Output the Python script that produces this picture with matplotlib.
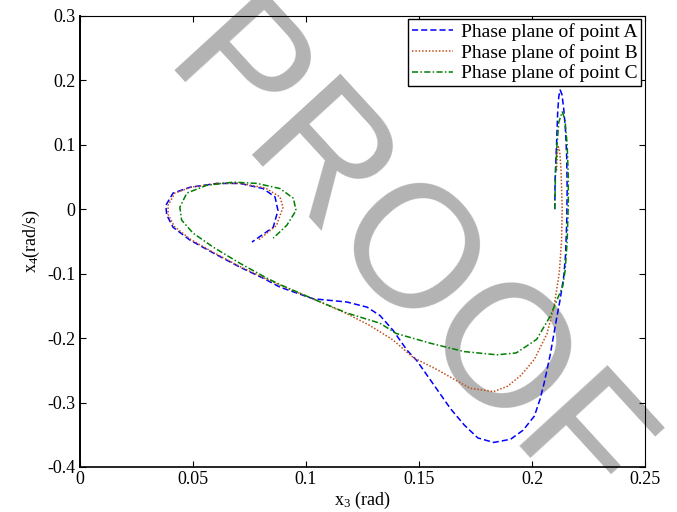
import matplotlib
matplotlib.use('Agg')
import matplotlib.pyplot as plt

plt.rcParams['font.family'] = ['Liberation Serif', 'DejaVu Serif']
plt.rcParams['mathtext.fontset'] = 'custom'
plt.rcParams['mathtext.rm'] = 'Liberation Serif'
plt.rcParams['mathtext.it'] = 'Liberation Serif:italic'

# Phase plane of point A (x3, x4)
A_X3 = [0.2100, 0.2102, 0.2108, 0.2113, 0.2118, 0.2124, 0.2132, 0.2140, 0.2148, 0.2153,
        0.2155, 0.2153, 0.2148, 0.2140, 0.2124, 0.2110, 0.2080, 0.2053, 0.2035, 0.2010,
        0.1960, 0.1905, 0.1830, 0.1760, 0.1700, 0.1640, 0.1580, 0.1490, 0.1447, 0.1385,
        0.1327, 0.1270, 0.1180, 0.1031, 0.0885, 0.0810, 0.0708, 0.0590, 0.0487, 0.0412,
        0.0384, 0.0380, 0.0412, 0.0487, 0.0606, 0.0708, 0.0810, 0.0863, 0.0876, 0.0855,
        0.0761]
A_X4 = [0.000, 0.050, 0.100, 0.150, 0.175, 0.185, 0.178, 0.155, 0.120, 0.080,
        0.030, -0.020, -0.070, -0.104, -0.140, -0.166, -0.226, -0.270, -0.295, -0.321,
        -0.343, -0.357, -0.362, -0.355, -0.335, -0.310, -0.280, -0.235, -0.219, -0.188,
        -0.165, -0.152, -0.144, -0.139, -0.121, -0.107, -0.090, -0.068, -0.048, -0.028,
        -0.009, 0.006, 0.025, 0.034, 0.040, 0.040, 0.032, 0.019, -0.002, -0.028,
        -0.051]

# Phase plane of point B
B_X3 = [0.2108, 0.2112, 0.2116, 0.2122, 0.2128, 0.2133, 0.2130, 0.2120, 0.2097, 0.2066,
        0.2010, 0.1950, 0.1890, 0.1830, 0.1726, 0.1580, 0.1473, 0.1385, 0.1280, 0.1180,
        0.1030, 0.0885, 0.0810, 0.0708, 0.0590, 0.0490, 0.0418, 0.0390, 0.0390, 0.0420,
        0.0490, 0.0606, 0.0710, 0.0820, 0.0885, 0.0898, 0.0870, 0.0789]
B_X4 = [0.060, 0.090, 0.097, 0.090, 0.060, 0.000, -0.050, -0.099, -0.151, -0.193,
        -0.233, -0.258, -0.275, -0.283, -0.278, -0.249, -0.230, -0.203, -0.180, -0.162,
        -0.139, -0.118, -0.106, -0.089, -0.067, -0.047, -0.027, -0.008, 0.006, 0.025,
        0.034, 0.040, 0.040, 0.033, 0.019, 0.003, -0.025, -0.048]

# Phase plane of point C
C_X3 = [0.2100, 0.2103, 0.2110, 0.2118, 0.2133, 0.2145, 0.2155, 0.2160, 0.2160, 0.2155,
        0.2146, 0.2135, 0.2080, 0.2020, 0.1930, 0.1845, 0.1700, 0.1550, 0.1500, 0.1400,
        0.1327, 0.1180, 0.1030, 0.0885, 0.0827, 0.0708, 0.0590, 0.0500, 0.0450, 0.0442,
        0.0473, 0.0560, 0.0680, 0.0783, 0.0885, 0.0944, 0.0956, 0.0915, 0.0855]
C_X4 = [0.000, 0.050, 0.100, 0.135, 0.151, 0.140, 0.100, 0.050, 0.009, -0.050,
        -0.095, -0.120, -0.166, -0.202, -0.223, -0.226, -0.221, -0.208, -0.203, -0.193,
        -0.177, -0.161, -0.139, -0.117, -0.107, -0.084, -0.059, -0.037, -0.017, 0.003,
        0.025, 0.037, 0.042, 0.040, 0.032, 0.017, -0.002, -0.025, -0.045]

LABELS = ['Phase plane of point A', 'Phase plane of point B', 'Phase plane of point C']
XTICKS = [0, 0.05, 0.1, 0.15, 0.2, 0.25]
XTICKLABELS = ['0', '0.05', '0.1', '0.15', '0.2', '0.25']
YTICKS = [-0.4, -0.3, -0.2, -0.1, 0, 0.1, 0.2, 0.3]
YTICKLABELS = ['-0.4', '-0.3', '-0.2', '-0.1', '0', '0.1', '0.2', '0.3']

fig = plt.figure(figsize=(6.77, 5.12), dpi=100)
ax = fig.add_axes([0.118, 0.088, 0.835, 0.881])

ax.plot(A_X3, A_X4, color='#0000ff', linestyle=(0, (4, 2)), lw=1.1, label=LABELS[0])
ax.plot(B_X3, B_X4, color='#c0501a', linestyle=(0, (1, 1.2)), lw=1.1, label=LABELS[1])
ax.plot(C_X3, C_X4, color='#008000', linestyle=(0, (4, 1.5, 1, 1.5)), lw=1.1, label=LABELS[2])

ax.set_xlim(0, 0.25)
ax.set_ylim(-0.4, 0.3)
ax.set_xticks(XTICKS)
ax.set_xticklabels(XTICKLABELS)
ax.set_yticks(YTICKS)
ax.set_yticklabels(YTICKLABELS)
ax.tick_params(direction='in', top=True, right=True, length=4, width=0.8,
               labelsize=13, pad=3)
for s in ax.spines.values():
    s.set_linewidth(0.8)
ax.spines['left'].set_linewidth(1.4)
ax.spines['bottom'].set_linewidth(1.2)

ax.set_xlabel('x$_3$ (rad)', fontsize=13, labelpad=1)
ax.set_ylabel('x$_4$(rad/s)', fontsize=13, labelpad=4)

leg = ax.legend(loc='upper right', bbox_to_anchor=(0.993, 0.992), fontsize=14,
                handlelength=2.1, labelspacing=0.14, borderpad=0.2,
                handletextpad=0.4, fancybox=False, framealpha=1, borderaxespad=0)
leg.get_frame().set_edgecolor('black')
leg.get_frame().set_linewidth(1.0)

# watermark behind the curves
ax.text(0.2349, 0.8633, 'PROOF', transform=fig.transFigure, fontsize=125,
        family='Liberation Sans', color='#b3b3b3', rotation=-47.5,
        ha='left', va='baseline', rotation_mode='anchor', zorder=0.5)

fig.savefig('out.png', dpi=100)
